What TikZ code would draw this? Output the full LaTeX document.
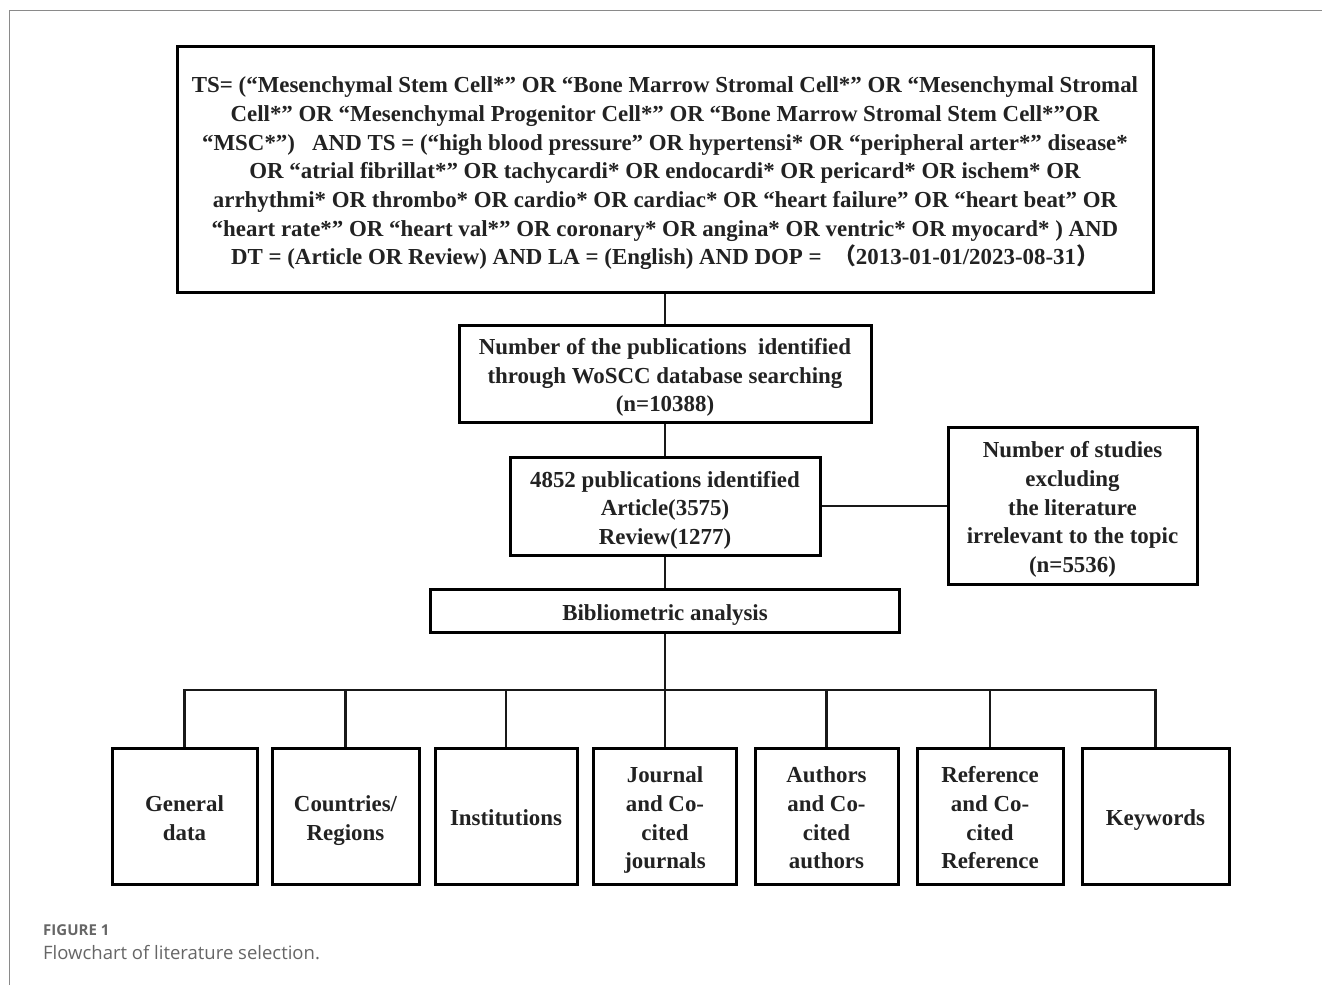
\documentclass[tikz,border=0pt]{standalone}
\usepackage{fontspec}
\setmainfont{Liberation Serif}
\newfontfamily\capfont{Open Sans}
\newfontfamily\cjk{Noto Sans CJK SC}
\usetikzlibrary{calc}
\definecolor{txt}{HTML}{222222}
\definecolor{framegray}{HTML}{8A8A8A}
\definecolor{capgray}{HTML}{666666}
\newcommand\boxlines[1]{\raisebox{-4pt}[\height][\depth]{\begin{tabular}{@{}c@{}}#1\end{tabular}}}
\tikzset{
  box/.style={draw=black, line width=3pt, inner sep=0pt, text=txt,
    font=\fontsize{22.9}{28.7}\selectfont\bfseries},
  conn/.style={draw=black!90, line width=2.5pt},
}
\begin{document}
\begin{tikzpicture}[x=1pt,y=-1pt]
\useasboundingbox (0,0) rectangle (1322,985);
\draw[framegray, line width=1.2pt] (9.5,985) -- (9.5,10.5) -- (1322,10.5);

\node[box, minimum width=976, minimum height=246] (top) at (665,169) {\boxlines{%
TS= (“Mesenchymal Stem Cell*” OR “Bone Marrow Stromal Cell*” OR “Mesenchymal Stromal\\
Cell*” OR “Mesenchymal Progenitor Cell*” OR “Bone Marrow Stromal Stem Cell*”OR\\
“MSC*”)\ \ \ AND TS = (“high blood pressure” OR hypertensi* OR “peripheral arter*” disease*\\
OR “atrial fibrillat*” OR tachycardi* OR endocardi* OR pericard* OR ischem* OR\\
arrhythmi* OR thrombo* OR cardio* OR cardiac* OR “heart failure” OR “heart beat” OR\\
“heart rate*” OR “heart val*” OR coronary* OR angina* OR ventric* OR myocard* ) AND\\
DT = (Article OR Review) AND LA = (English) AND DOP =\ \ {\cjk （}2013-01-01/2023-08-31{\cjk ）}}};

\node[box, minimum width=412, minimum height=97] (pub) at (665,373.5) {\boxlines{%
Number of the publications\ \ identified\\ through WoSCC database searching\\ (n=10388)}};

\node[box, minimum width=310, minimum height=98] (ident) at (665,506) {\boxlines{%
4852 publications identified\\ Article(3575)\\ Review(1277)}};

\node[box, minimum width=249, minimum height=157] (excl) at (1072.5,505.5) {\boxlines{%
Number of studies\\ excluding\\ the literature\\ irrelevant to the topic\\ (n=5536)}};

\node[box, minimum width=469, minimum height=43] (bib) at (665,610.5) {\boxlines{Bibliometric analysis}};

\node[box, minimum width=145, minimum height=136] (b1) at (184.5,816) {\boxlines{General\\ data}};
\node[box, minimum width=147, minimum height=136] (b2) at (345.5,816) {\boxlines{Countries/\\ Regions}};
\node[box, minimum width=142, minimum height=136] (b3) at (506,816) {\boxlines{Institutions}};
\node[box, minimum width=143, minimum height=136] (b4) at (665,816) {\boxlines{Journal\\ and Co-\\ cited\\ journals}};
\node[box, minimum width=143, minimum height=136] (b5) at (826.5,816) {\boxlines{Authors\\ and Co-\\ cited\\ authors}};
\node[box, minimum width=146, minimum height=136] (b6) at (990,816) {\boxlines{Reference\\ and Co-\\ cited\\ Reference}};
\node[box, minimum width=147, minimum height=136] (b7) at (1155.5,816) {\boxlines{Keywords}};

\coordinate (bus) at (665,690);
\draw[conn] (top.south) -- (pub.north);
\draw[conn] (pub.south) -- (ident.north);
\draw[conn] (ident.east) -- (ident.east -| excl.west);
\draw[conn] (ident.south) -- (bib.north);
\draw[conn] (bib.south) -- (bus);
\draw[conn] (b1.north) |- (bus) -| (b7.north);
\foreach \b in {b2,b3,b4,b5,b6}{\draw[conn] (\b.north) -- (\b.north |- bus);}

\node[anchor=west, text=capgray, font=\capfont\fontsize{15}{17}\selectfont\bfseries, inner sep=0pt] (fig) at (43,930) {FIGURE 1};
\node[anchor=west, text=capgray, font=\capfont\fontsize{18.5}{22}\selectfont, inner sep=0pt] (cap) at (43,953) {Flowchart of literature selection.};
\end{tikzpicture}
\end{document}
